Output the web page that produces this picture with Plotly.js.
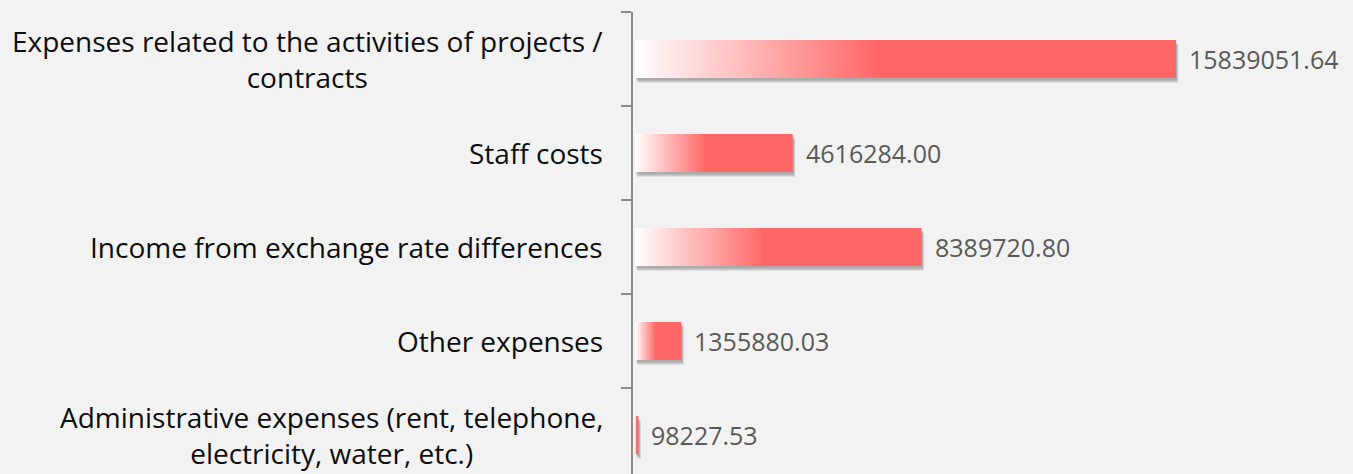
<!DOCTYPE html>
<html>
<head>
<meta charset="utf-8">
<script src="https://cdn.plot.ly/plotly-3.0.1.min.js"></script>
<style>html,body{margin:0;padding:0;background:#f2f2f2;}#chart{width:1353px;height:474px;}</style>
</head>
<body>
<div id="chart"></div>
<script>
// Data (top to bottom)
const categories = [
  "Expenses related to the activities of projects /<br>contracts",
  "Staff costs",
  "Income from exchange rate differences",
  "Other expenses",
  "Administrative expenses (rent, telephone,<br>electricity, water, etc.)"
];
const values = [15839051.64, 4616284.00, 8389720.80, 1355880.03, 98227.53];
const valueLabels = ["15839051.64", "4616284.00", "8389720.80", "1355880.03", "98227.53"];

const HALF = 0.202;          // half bar thickness (category units)
const XMIN = -60000, XMAX = 19940000;
const PLOTW = 683, PLOTH = 462, CATS = PLOTH / 94;
const pxX = (XMAX - XMIN) / PLOTW, pxY = CATS / PLOTH;

const traces = [];
// soft shadows
values.forEach((v, i) => {
  [[5, 0.08], [4, 0.10], [2.5, 0.14]].forEach(([o, a]) => {
    const ox = o * pxX * 0.5, oy = o * pxY;
    traces.push({
      type: 'scatter', mode: 'none', fill: 'toself', hoverinfo: 'skip',
      fillcolor: 'rgba(0,0,0,' + a + ')',
      x: [ox, v + ox, v + ox, ox, ox],
      y: [i - HALF + oy, i - HALF + oy, i + HALF + oy, i + HALF + oy, i - HALF + oy],
      showlegend: false
    });
  });
});
// bars with gradient
values.forEach((v, i) => {
  traces.push({
    type: 'scatter', mode: 'none', fill: 'toself', hoverinfo: 'skip',
    x: [0, v, v, 0, 0],
    y: [i - HALF, i - HALF, i + HALF, i + HALF, i - HALF],
    fillgradient: {
      type: 'horizontal',
      colorscale: [[0, '#ffffff'], [0.45, '#ff6666'], [1, '#ff6666']]
    },
    showlegend: false
  });
});

const annotations = [];
categories.forEach((c, i) => {
  annotations.push({
    xref: 'paper', x: 0, xanchor: 'right', xshift: -28,
    yref: 'y', y: i, yanchor: 'middle',
    text: c, showarrow: false, align: 'center',
    font: {family: 'Open Sans, sans-serif', size: 28, color: '#0d0d0d'}
  });
});
values.forEach((v, i) => {
  annotations.push({
    xref: 'x', x: v, xanchor: 'left', xshift: 11,
    yref: 'y', y: i, yanchor: 'middle',
    text: valueLabels[i], showarrow: false,
    font: {family: 'Open Sans, sans-serif', size: 25, color: '#595959'}
  });
});

const layout = {
  width: 1353, height: 474,
  margin: {l: 633, r: 37, t: 12, b: 0, pad: 0},
  paper_bgcolor: '#f2f2f2', plot_bgcolor: '#f2f2f2',
  showlegend: false,
  xaxis: {range: [XMIN, XMAX], visible: false, fixedrange: true},
  yaxis: {
    range: [-0.5 + CATS, -0.5],
    tickvals: [-0.5, 0.5, 1.5, 2.5, 3.5],
    ticks: 'outside', ticklen: 10, tickwidth: 2, tickcolor: '#8c8c8c',
    showticklabels: false, showgrid: false, zeroline: false,
    showline: true, linecolor: '#8c8c8c', linewidth: 2
  },
  annotations: annotations
};

Plotly.newPlot('chart', traces, layout, {displayModeBar: false, staticPlot: true});
</script>
</body>
</html>
